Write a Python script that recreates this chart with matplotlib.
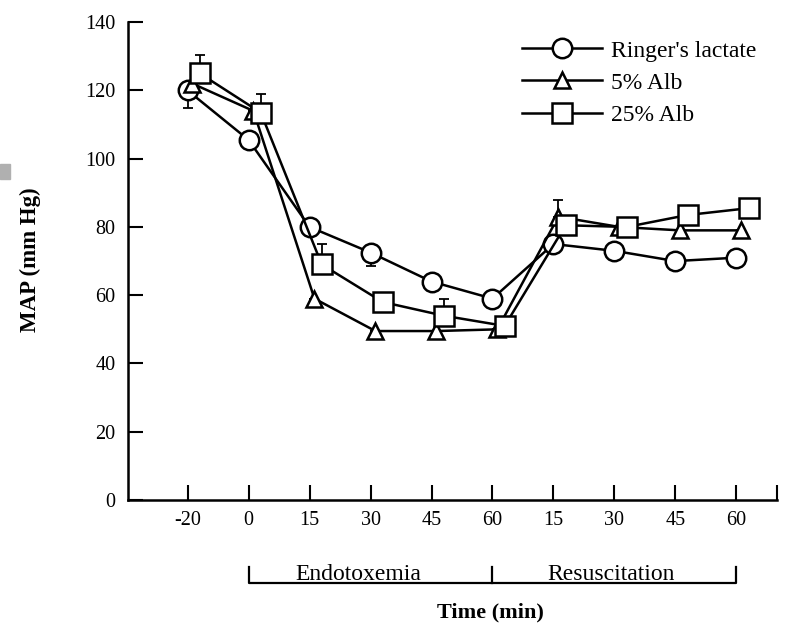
import matplotlib
matplotlib.use("Agg")
import matplotlib.pyplot as plt
import matplotlib.transforms as mtransforms
from matplotlib.patches import Rectangle

plt.rcParams["font.family"] = ["Liberation Serif", "DejaVu Serif"]

# time points: baseline, endotoxemia phase, resuscitation phase
tick_labels = ["-20", "0", "15", "30", "45", "60", "15", "30", "45", "60"]

ringer = [120, 105.5, 80, 72.5, 64, 59, 75, 73, 70, 71]
alb5 = [122, 114, 59, 49.5, 49.5, 50, 83, 80, 79, 79]
alb25 = [125, 113.5, 69, 58, 54, 51, 80.5, 80, 83.5, 85.5]

# one-sided SEM bars (lower, upper)
ringer_err = [[5, 0, 0, 4, 0, 0, 0, 0, 0, 0], [0] * 10]
alb5_err = [[0] * 10, [0, 0, 0, 0, 0, 0, 5, 0, 0, 0]]
alb25_err = [[0] * 10, [5.5, 5.5, 6, 0, 5, 0, 0, 0, 0, 0]]

series = [
    ("Ringer's lactate", ringer, ringer_err, "o", 14, 0.0),
    ("5% Alb", alb5, alb5_err, "^", 11, 0.08),
    ("25% Alb", alb25, alb25_err, "s", 15, 0.2),
]

fig = plt.figure(figsize=(7.99, 6.27), dpi=100)
ax = fig.add_axes([0.160, 0.2026, 0.812, 0.762])

x = list(range(len(tick_labels)))
for name, vals, err, marker, ms, shift in series:
    xs = [i + shift for i in x]
    ax.errorbar(xs, vals, yerr=err, fmt="none", ecolor="black",
                elinewidth=1.3, capsize=3.5, capthick=1.3, zorder=2)
    ax.plot(xs, vals, color="black", lw=1.8, marker=marker, ms=ms,
            mfc="white", mec="black", mew=1.8, label=name, zorder=3)

ax.set_xlim(-0.98, 9.66)
ax.set_ylim(0, 140)
ax.set_xticks(x)
ax.set_xticklabels(tick_labels)
ax.set_yticks(range(0, 141, 20))
ax.set_xticks([9.66], minor=True)
for side in ("top", "right"):
    ax.spines[side].set_visible(False)
for side in ("left", "bottom"):
    ax.spines[side].set_linewidth(1.8)
ax.tick_params(direction="in", length=11, width=1.5, labelsize=14.5)
ax.tick_params(axis="x", which="minor", direction="in", length=11, width=1.5)
ax.tick_params(axis="x", pad=8)
ax.tick_params(axis="y", pad=9)

ax.legend(loc="upper left", bbox_to_anchor=(522 / 799, 1 - 40 / 627),
          bbox_transform=fig.transFigure, frameon=False, fontsize=17,
          handlelength=3.4, handletextpad=0.35, labelspacing=0.45,
          borderpad=0, borderaxespad=0)

# phase bracket under the x axis
trans = mtransforms.blended_transform_factory(ax.transData, ax.transAxes)
y_line, y_top = -0.174, -0.140
ax.plot([1, 1, 9, 9], [y_top, y_line, y_line, y_top], color="black", lw=1.6,
        transform=trans, clip_on=False)
ax.plot([5, 5], [y_line, y_top], color="black", lw=1.6,
        transform=trans, clip_on=False)
ax.text(2.8, -0.168, "Endotoxemia", transform=trans, ha="center",
        va="baseline", fontsize=17)
ax.text(6.95, -0.168, "Resuscitation", transform=trans, ha="center",
        va="baseline", fontsize=17)

fig.text(490 / 799, 1 - 612 / 627, "Time (min)", ha="center", va="center",
         fontsize=16, fontweight="bold")
fig.text(30 / 799, 1 - 260 / 627, "MAP (mm Hg)", ha="center", va="center",
         rotation=90, fontsize=16.5, fontweight="bold")

# grey mark at the left edge of the page
fig.patches.append(Rectangle((0, 1 - 179 / 627), 10 / 799, 15 / 627,
                             transform=fig.transFigure, color="#b0b0b0"))

fig.savefig("out.png", dpi=100, facecolor="white")
